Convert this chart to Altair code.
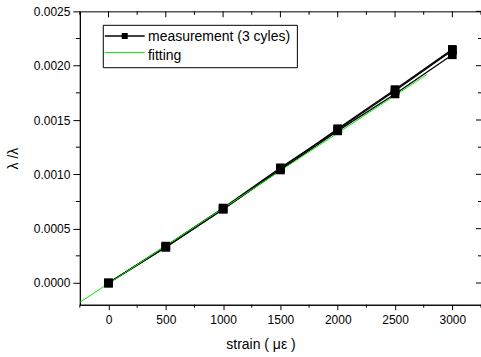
import altair as alt
import pandas as pd

# ---- data ----
strain = [0, 500, 1000, 1500, 2000, 2500, 3000]
cycle_1 = [0.0, 0.00033, 0.00068, 0.00105, 0.00142, 0.00178, 0.00215]
cycle_2 = [0.0, 0.00034, 0.00069, 0.00106, 0.00141, 0.00177, 0.00214]
cycle_3 = [0.0, 0.00033, 0.00068, 0.00104, 0.00140, 0.00174, 0.00210]
fit_strain = [-250, 2780]
fit_value = [-0.000178, 0.00192]

x_major = [0, 500, 1000, 1500, 2000, 2500, 3000]
x_minor = [-250, 250, 750, 1250, 1750, 2250, 2750, 3250]
y_major = [0.0, 0.0005, 0.0010, 0.0015, 0.0020, 0.0025]
y_minor = [0.00025, 0.00075, 0.00125, 0.00175, 0.00225]

FONT = "Liberation Sans"
W, H = 402, 294

rows = []
for name, vals in (("c1", cycle_1), ("c2", cycle_2), ("c3", cycle_3)):
    for s, v in zip(strain, vals):
        rows.append({"strain": s, "value": v, "cycle": name})
meas = pd.DataFrame(rows)
fit = pd.DataFrame({"strain": fit_strain, "value": fit_value})
xmaj = pd.DataFrame({"t": x_major})
xmin = pd.DataFrame({"t": x_minor})
ymaj = pd.DataFrame({"t": y_major})
ymin = pd.DataFrame({"t": y_minor})
one = pd.DataFrame({"a": [0]})

xscale = alt.Scale(domain=[-250, 3250], nice=False, zero=False)
yscale = alt.Scale(domain=[-0.0002, 0.0025], nice=False, zero=False)

x_axis = alt.Axis(
    values=x_major, format="d", tickSize=5, labelPadding=5, grid=False,
    labelFontSize=12, labelColor="black", labelFont=FONT,
    domainColor="black", tickColor="black",
    title="strain ( με  )", titleFont=FONT, titleFontSize=14,
    titleFontWeight="normal", titleColor="black",
    titleX=181, titleY=40, titleBaseline="middle", titleAlign="center",
)
y_axis = alt.Axis(
    values=y_major, format=".4f", tickSize=7, labelPadding=3, grid=False,
    labelFontSize=12, labelColor="black", labelFont=FONT,
    domainColor="black", tickColor="black",
    title="λ /λ", titleFont=FONT, titleFontSize=14,
    titleFontWeight="normal", titleColor="black",
    titleX=-66, titleY=147, titleAngle=270, titleBaseline="middle", titleAlign="center",
)

lines = alt.Chart(meas).mark_line(color="black", strokeWidth=1.3).encode(
    x=alt.X("strain:Q", scale=xscale, axis=x_axis),
    y=alt.Y("value:Q", scale=yscale, axis=y_axis),
    detail="cycle:N",
)
points = alt.Chart(meas).mark_point(shape="square", filled=True, color="black",
                                    size=75, opacity=1).encode(
    x=alt.X("strain:Q", scale=xscale),
    y=alt.Y("value:Q", scale=yscale),
)
fitline = alt.Chart(fit).mark_line(color="#00ee00", strokeWidth=1).encode(
    x=alt.X("strain:Q", scale=xscale),
    y=alt.Y("value:Q", scale=yscale),
)

# minor / mirrored ticks
bx_minor = alt.Chart(xmin).mark_rule(color="black", clip=False).encode(
    x=alt.X("t:Q", scale=xscale), y=alt.value(H), y2=alt.value(H + 3))
top_major = alt.Chart(xmaj).mark_rule(color="black").encode(
    x=alt.X("t:Q", scale=xscale), y=alt.value(0), y2=alt.value(6))
top_minor = alt.Chart(xmin).mark_rule(color="black").encode(
    x=alt.X("t:Q", scale=xscale), y=alt.value(0), y2=alt.value(3.5))
ly_minor = alt.Chart(ymin).mark_rule(color="black", clip=False).encode(
    y=alt.Y("t:Q", scale=yscale), x=alt.value(0), x2=alt.value(-4))
right_major = alt.Chart(ymaj).mark_rule(color="black").encode(
    y=alt.Y("t:Q", scale=yscale), x=alt.value(W), x2=alt.value(W - 5))
right_minor = alt.Chart(ymin).mark_rule(color="black").encode(
    y=alt.Y("t:Q", scale=yscale), x=alt.value(W), x2=alt.value(W - 3))

# legend
leg_box = alt.Chart(one).mark_rect(fill="white", stroke="black", strokeWidth=1).encode(
    x=alt.value(23.5), x2=alt.value(218), y=alt.value(14), y2=alt.value(56.5))
leg_line1 = alt.Chart(one).mark_rule(color="black", strokeWidth=1.3).encode(
    x=alt.value(25), x2=alt.value(65), y=alt.value(24.7))
leg_sq = alt.Chart(one).mark_point(shape="square", filled=True, color="black",
                                   size=36, opacity=1).encode(
    x=alt.value(45), y=alt.value(24.7))
leg_line2 = alt.Chart(one).mark_rule(color="#00ee00", strokeWidth=1).encode(
    x=alt.value(25), x2=alt.value(65), y=alt.value(41.3))
leg_t1 = alt.Chart(one).mark_text(text="measurement (3 cyles)", align="left",
                                  baseline="alphabetic", font=FONT, fontSize=14,
                                  color="black").encode(x=alt.value(68.3), y=alt.value(30))
leg_t2 = alt.Chart(one).mark_text(text="fitting", align="left",
                                  baseline="alphabetic", font=FONT, fontSize=14,
                                  color="black").encode(x=alt.value(68.3), y=alt.value(48.5))

chart = alt.layer(
    lines, fitline, points,
    bx_minor, top_major, top_minor, ly_minor, right_major, right_minor,
    leg_box, leg_line1, leg_sq, leg_line2, leg_t1, leg_t2,
).properties(
    width=W, height=H,
    autosize=alt.AutoSizeParams(type="none"),
    padding={"left": 80, "top": 11, "right": 0, "bottom": 52},
    background="white",
).configure_view(stroke="black", strokeWidth=1)

chart.save("out.html", embed_options={"renderer": "svg", "actions": False})
